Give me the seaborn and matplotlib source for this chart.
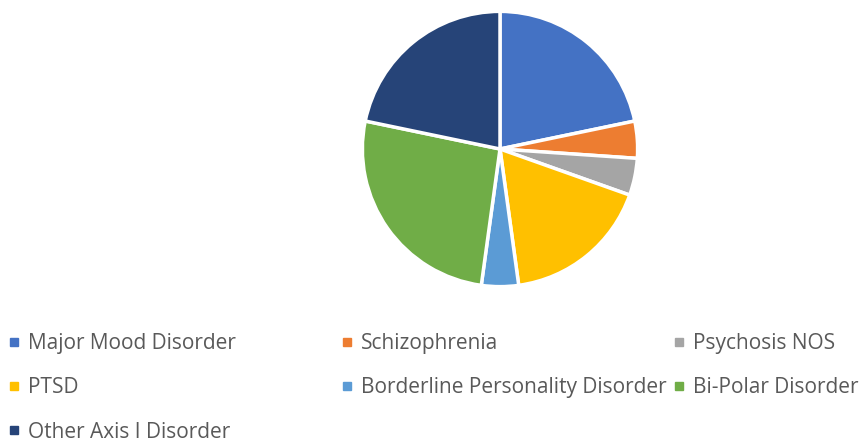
import numpy as np
import pandas as pd
import seaborn as sns
import matplotlib.pyplot as plt
from matplotlib.lines import Line2D

sns.set_style('white')
plt.rcParams['font.family'] = ['Open Sans', 'DejaVu Sans']

# data
diagnoses = ['Major Mood Disorder', 'Schizophrenia', 'Psychosis NOS', 'PTSD',
             'Borderline Personality Disorder', 'Bi-Polar Disorder', 'Other Axis I Disorder']
counts = [5, 1, 1, 4, 1, 6, 5]
colors = ['#4472C4', '#ED7D31', '#A5A5A5', '#FFC000', '#5B9BD5', '#70AD47', '#264478']

df = pd.DataFrame({'diagnosis': diagnoses, 'count': counts, 'color': colors})

fig = plt.figure(figsize=(8.63, 4.43), dpi=100)
W, H = 863, 443
cx, cy, r = 500, 149, 139
ax = fig.add_axes([(cx - r) / W, (H - cy - r) / H, 2 * r / W, 2 * r / H])
ax.pie(df['count'], colors=df['color'], startangle=90, counterclock=False,
       wedgeprops=dict(edgecolor='white', linewidth=2.5))
ax.set_xlim(-1.01, 1.01)
ax.set_ylim(-1.01, 1.01)
ax.set_aspect('equal')
ax.axis('off')

# legend, row by row in three columns
handles = [Line2D([], [], marker='s', linestyle='', markersize=6,
                  markerfacecolor=c, markeredgecolor=c) for c in df['color']]
col_x = [7, 340, 672]
for j, x in enumerate(col_x):
    idx = list(range(j, len(diagnoses), 3))
    leg = fig.legend([handles[i] for i in idx], [diagnoses[i] for i in idx],
                     loc='upper left', bbox_to_anchor=(x / W, 1 - 333 / H),
                     frameon=False, fontsize=15, labelcolor='#595959',
                     handlelength=0.7, handletextpad=0.3, labelspacing=1.12,
                     borderpad=0, borderaxespad=0)

fig.savefig('out.png', dpi=100)
